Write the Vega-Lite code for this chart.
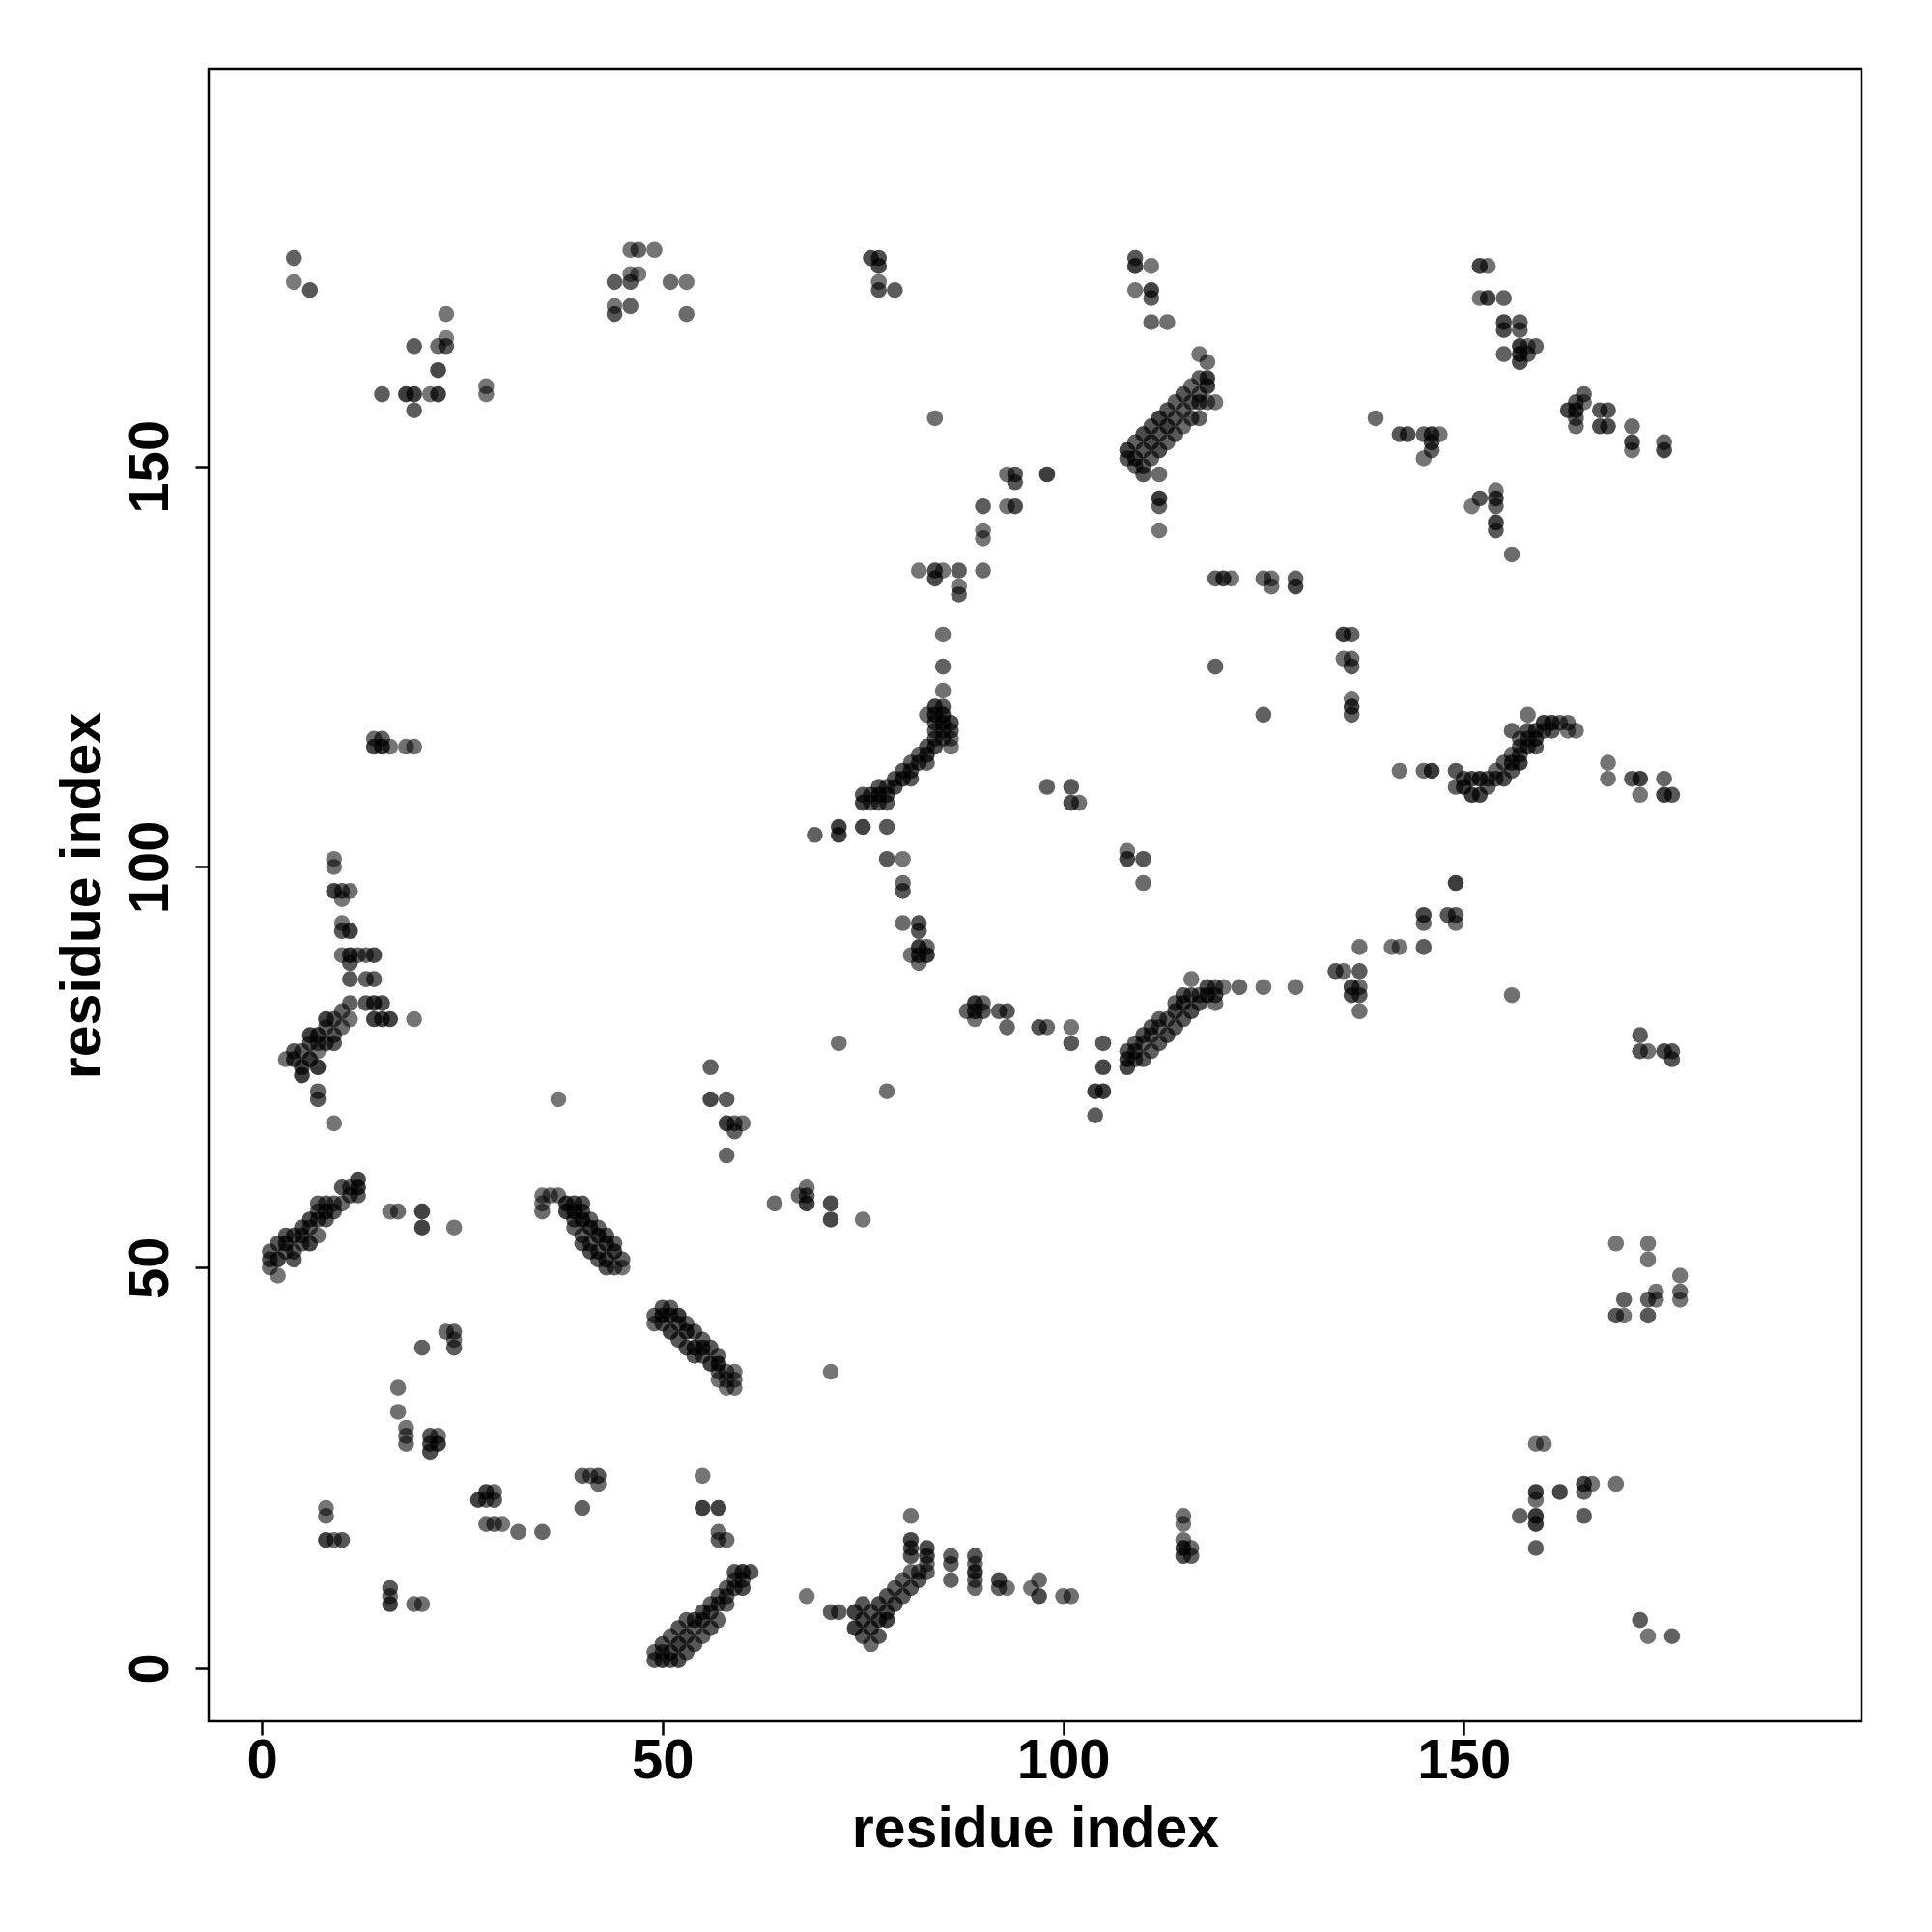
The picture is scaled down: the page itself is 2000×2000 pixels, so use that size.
{
 "$schema": "https://vega.github.io/schema/vega-lite/v6.json",
 "width": 1711, "height": 1711,
 "autosize": {"type": "none"},
 "padding": {"left": 216, "top": 71, "right": 73, "bottom": 218},
 "background": "white",
 "config": {"view": {"stroke": "black", "strokeWidth": 2.5}},
 "data": {"values": [
{"i":4,"j":176,"p":0.5},{"i":4,"j":173,"p":0.25},{"i":6,"j":172,"p":0.6},{"i":23,"j":169,"p":0.3},{"i":19,"j":165,"p":0.55},{"i":22,"j":165,"p":0.4},{"i":23,"j":166,"p":0.2},{"i":23,"j":165,"p":0.6},{"i":22,"j":162,"p":0.75},{"i":15,"j":159,"p":0.55},{"i":18,"j":159,"p":0.85},{"i":19,"j":159,"p":0.85},{"i":21,"j":159,"p":0.3},{"i":22,"j":159,"p":0.85},{"i":19,"j":157,"p":0.55},{"i":28,"j":160,"p":0.3},{"i":28,"j":159,"p":0.3},
{"i":46,"j":177,"p":0.3},{"i":47,"j":177,"p":0.45},{"i":49,"j":177,"p":0.3},{"i":44,"j":173,"p":0.55},{"i":46,"j":173,"p":0.55},{"i":46,"j":174,"p":0.25},{"i":47,"j":174,"p":0.25},{"i":51,"j":173,"p":0.4},{"i":53,"j":173,"p":0.3},{"i":44,"j":170,"p":0.3},{"i":44,"j":169,"p":0.6},{"i":46,"j":170,"p":0.5},{"i":53,"j":169,"p":0.4},{"i":76,"j":176,"p":0.7},{"i":77,"j":176,"p":0.7},{"i":77,"j":175,"p":0.75},{"i":77,"j":173,"p":0.3},{"i":77,"j":172,"p":0.6},{"i":79,"j":172,"p":0.55},{"i":84,"j":156,"p":0.35},{"i":82,"j":137,"p":0.3},{"i":84,"j":137,"p":0.7},{"i":84,"j":136,"p":0.7},{"i":85,"j":137,"p":0.3},{"i":87,"j":137,"p":0.55},{"i":87,"j":135,"p":0.3},{"i":87,"j":134,"p":0.55},{"i":85,"j":129,"p":0.35},{"i":85,"j":125,"p":0.5},{"i":85,"j":122,"p":0.35},{"i":85,"j":120,"p":0.6},{"i":84,"j":120,"p":0.8},{"i":83,"j":119,"p":0.4},{"i":84,"j":119,"p":0.8},{"i":85,"j":119,"p":0.85},
{"i":109,"j":176,"p":0.6},{"i":109,"j":175,"p":0.85},{"i":111,"j":175,"p":0.3},{"i":109,"j":172,"p":0.3},{"i":111,"j":172,"p":0.8},{"i":111,"j":171,"p":0.55},{"i":111,"j":168,"p":0.45},{"i":113,"j":168,"p":0.35},{"i":117,"j":164,"p":0.3},{"i":118,"j":163,"p":0.35},{"i":118,"j":161,"p":0.85},{"i":118,"j":160,"p":0.85},{"i":117,"j":161,"p":0.5},{"i":116,"j":160,"p":0.4},{"i":115,"j":159,"p":0.6},{"i":119,"j":158,"p":0.3},{"i":117,"j":158,"p":0.7},{"i":117,"j":156,"p":0.5},
{"i":109,"j":153,"p":0.5},{"i":110,"j":154,"p":0.7},{"i":111,"j":155,"p":0.6},{"i":112,"j":156,"p":0.8},{"i":113,"j":157,"p":0.6},{"i":114,"j":158,"p":0.5},{"i":110,"j":150,"p":0.6},{"i":111,"j":151,"p":0.5},{"i":112,"j":152,"p":0.7},{"i":113,"j":153,"p":0.5},{"i":114,"j":154,"p":0.6},{"i":115,"j":155,"p":0.4},{"i":116,"j":156,"p":0.6},{"i":118,"j":158,"p":0.4},{"i":109,"j":151,"p":0.8},{"i":110,"j":152,"p":0.6},{"i":111,"j":153,"p":0.7},{"i":112,"j":154,"p":0.6},{"i":113,"j":155,"p":0.8},{"i":114,"j":156,"p":0.6},{"i":115,"j":157,"p":0.5},{"i":116,"j":158,"p":0.6},{"i":117,"j":159,"p":0.5},{"i":108,"j":152,"p":0.8},{"i":108,"j":151,"p":0.6},{"i":109,"j":150,"p":0.5},{"i":110,"j":149,"p":0.6},{"i":112,"j":149,"p":0.4},{"i":112,"j":146,"p":0.85},{"i":112,"j":145,"p":0.5},{"i":112,"j":142,"p":0.3},
{"i":93,"j":149,"p":0.35},{"i":94,"j":149,"p":0.6},{"i":94,"j":148,"p":0.6},{"i":98,"j":149,"p":0.85},{"i":90,"j":145,"p":0.55},{"i":93,"j":145,"p":0.3},{"i":94,"j":145,"p":0.7},{"i":90,"j":142,"p":0.3},{"i":90,"j":141,"p":0.3},{"i":90,"j":137,"p":0.4},{"i":119,"j":136,"p":0.5},{"i":120,"j":136,"p":0.8},{"i":121,"j":136,"p":0.3},{"i":125,"j":136,"p":0.4},{"i":126,"j":136,"p":0.3},{"i":126,"j":135,"p":0.35},{"i":129,"j":136,"p":0.5},{"i":129,"j":135,"p":0.75},{"i":119,"j":125,"p":0.5},{"i":125,"j":119,"p":0.5},
{"i":152,"j":175,"p":0.8},{"i":153,"j":175,"p":0.35},{"i":152,"j":171,"p":0.3},{"i":153,"j":171,"p":0.8},{"i":155,"j":171,"p":0.5},{"i":155,"j":168,"p":0.75},{"i":155,"j":167,"p":0.7},{"i":157,"j":168,"p":0.55},{"i":157,"j":167,"p":0.5},{"i":155,"j":164,"p":0.5},{"i":157,"j":165,"p":0.85},{"i":157,"j":164,"p":0.85},{"i":157,"j":163,"p":0.7},{"i":158,"j":165,"p":0.3},{"i":159,"j":165,"p":0.5},{"i":158,"j":164,"p":0.55},{"i":139,"j":156,"p":0.4},{"i":142,"j":154,"p":0.6},{"i":143,"j":154,"p":0.7},{"i":145,"j":154,"p":0.5},{"i":146,"j":154,"p":0.85},{"i":147,"j":154,"p":0.3},{"i":146,"j":153,"p":0.7},{"i":146,"j":152,"p":0.5},{"i":145,"j":151,"p":0.3},{"i":163,"j":157,"p":0.75},{"i":164,"j":158,"p":0.6},{"i":165,"j":159,"p":0.5},{"i":165,"j":158,"p":0.3},{"i":164,"j":157,"p":0.85},{"i":164,"j":156,"p":0.5},{"i":164,"j":155,"p":0.4},{"i":167,"j":157,"p":0.6},{"i":168,"j":157,"p":0.6},{"i":167,"j":155,"p":0.7},{"i":168,"j":155,"p":0.7},{"i":171,"j":155,"p":0.4},{"i":171,"j":153,"p":0.8},{"i":171,"j":152,"p":0.3},{"i":175,"j":153,"p":0.45},{"i":175,"j":152,"p":0.75},{"i":154,"j":147,"p":0.3},{"i":154,"j":146,"p":0.75},{"i":154,"j":145,"p":0.5},{"i":152,"j":146,"p":0.6},{"i":151,"j":145,"p":0.25},{"i":154,"j":143,"p":0.8},{"i":154,"j":142,"p":0.6},{"i":156,"j":139,"p":0.4},{"i":135,"j":129,"p":0.85},{"i":136,"j":129,"p":0.5},{"i":135,"j":126,"p":0.35},{"i":136,"j":126,"p":0.4},{"i":136,"j":125,"p":0.55},{"i":136,"j":121,"p":0.3},{"i":136,"j":120,"p":0.8},{"i":136,"j":119,"p":0.5},
{"i":14,"j":116,"p":0.4},{"i":15,"j":116,"p":0.5},{"i":14,"j":115,"p":0.8},{"i":15,"j":115,"p":0.9},{"i":16,"j":115,"p":0.3},{"i":18,"j":115,"p":0.35},{"i":19,"j":115,"p":0.35},{"i":9,"j":101,"p":0.3},{"i":9,"j":100,"p":0.35},{"i":9,"j":97,"p":0.8},{"i":10,"j":97,"p":0.55},{"i":11,"j":97,"p":0.35},{"i":10,"j":96,"p":0.3},{"i":10,"j":93,"p":0.3},{"i":10,"j":92,"p":0.6},{"i":11,"j":92,"p":0.8},{"i":10,"j":89,"p":0.35},{"i":11,"j":89,"p":0.9},{"i":12,"j":89,"p":0.5},{"i":13,"j":89,"p":0.4},{"i":14,"j":89,"p":0.75},{"i":11,"j":88,"p":0.6},{"i":11,"j":86,"p":0.6},{"i":13,"j":86,"p":0.5},{"i":14,"j":86,"p":0.55},{"i":11,"j":83,"p":0.5},{"i":13,"j":83,"p":0.6},{"i":14,"j":83,"p":0.85},{"i":15,"j":83,"p":0.7},{"i":14,"j":81,"p":0.8},{"i":15,"j":81,"p":0.8},{"i":16,"j":81,"p":0.8},{"i":19,"j":81,"p":0.3},
{"i":10,"j":82,"p":0.5},{"i":11,"j":81,"p":0.3},{"i":9,"j":81,"p":0.6},{"i":10,"j":80,"p":0.4},{"i":8,"j":81,"p":0.8},{"i":8,"j":80,"p":0.5},{"i":9,"j":79,"p":0.6},{"i":7,"j":79,"p":0.85},{"i":9,"j":78,"p":0.6},{"i":6,"j":79,"p":0.8},{"i":6,"j":78,"p":0.6},{"i":7,"j":77,"p":0.3},{"i":5,"j":77,"p":0.5},{"i":4,"j":77,"p":0.6},{"i":3,"j":76,"p":0.35},{"i":4,"j":76,"p":0.8},{"i":5,"j":75,"p":0.8},{"i":7,"j":75,"p":0.9},{"i":5,"j":74,"p":0.85},{"i":6,"j":76,"p":0.9},{"i":8,"j":78,"p":0.7},{"i":7,"j":78,"p":0.4},{"i":7,"j":72,"p":0.5},{"i":7,"j":71,"p":0.6},{"i":9,"j":68,"p":0.3},{"i":37,"j":71,"p":0.3},
{"i":12,"j":61,"p":0.75},{"i":12,"j":60,"p":0.9},{"i":10,"j":60,"p":0.6},{"i":12,"j":59,"p":0.55},{"i":7,"j":58,"p":0.5},{"i":8,"j":58,"p":0.6},{"i":9,"j":58,"p":0.5},{"i":10,"j":58,"p":0.4},{"i":16,"j":57,"p":0.3},{"i":17,"j":57,"p":0.4},{"i":20,"j":57,"p":0.8},{"i":35,"j":59,"p":0.3},{"i":36,"j":59,"p":0.35},{"i":37,"j":59,"p":0.4},{"i":35,"j":58,"p":0.3},{"i":38,"j":58,"p":0.9},{"i":39,"j":58,"p":0.7},{"i":40,"j":58,"p":0.6},
{"i":35,"j":57,"p":0.4},{"i":38,"j":57,"p":0.85},{"i":39,"j":57,"p":0.9},{"i":40,"j":57,"p":0.6},{"i":39,"j":56,"p":0.6},{"i":40,"j":56,"p":0.9},{"i":41,"j":56,"p":0.5},{"i":39,"j":55,"p":0.5},{"i":41,"j":55,"p":0.85},{"i":42,"j":55,"p":0.5},{"i":40,"j":54,"p":0.5},{"i":42,"j":54,"p":0.9},{"i":43,"j":54,"p":0.6},{"i":40,"j":53,"p":0.6},{"i":41,"j":53,"p":0.5},{"i":43,"j":53,"p":0.85},{"i":44,"j":53,"p":0.5},{"i":41,"j":52,"p":0.7},{"i":42,"j":52,"p":0.6},{"i":44,"j":52,"p":0.85},{"i":42,"j":51,"p":0.6},{"i":43,"j":51,"p":0.7},{"i":45,"j":51,"p":0.5},{"i":43,"j":50,"p":0.6},{"i":44,"j":50,"p":0.5},{"i":45,"j":50,"p":0.3},
{"i":1,"j":52,"p":0.5},{"i":1,"j":51,"p":0.6},{"i":1,"j":50,"p":0.4},{"i":2,"j":53,"p":0.6},{"i":2,"j":51,"p":0.8},{"i":2,"j":49,"p":0.3},{"i":3,"j":54,"p":0.6},{"i":3,"j":53,"p":0.8},{"i":3,"j":52,"p":0.5},{"i":4,"j":54,"p":0.7},{"i":4,"j":52,"p":0.5},{"i":4,"j":51,"p":0.6},{"i":5,"j":55,"p":0.6},{"i":5,"j":54,"p":0.7},{"i":5,"j":53,"p":0.5},{"i":6,"j":56,"p":0.7},{"i":6,"j":55,"p":0.5},{"i":6,"j":53,"p":0.8},{"i":7,"j":57,"p":0.5},{"i":7,"j":56,"p":0.6},{"i":7,"j":54,"p":0.4},{"i":8,"j":57,"p":0.7},{"i":8,"j":56,"p":0.6},{"i":9,"j":57,"p":0.6},{"i":11,"j":59,"p":0.6},{"i":11,"j":60,"p":0.5},
{"i":20,"j":55,"p":0.8},{"i":24,"j":55,"p":0.3},{"i":23,"j":42,"p":0.4},{"i":24,"j":42,"p":0.5},{"i":24,"j":41,"p":0.35},{"i":24,"j":40,"p":0.55},{"i":20,"j":40,"p":0.5},{"i":17,"j":35,"p":0.35},{"i":17,"j":32,"p":0.35},{"i":18,"j":30,"p":0.3},{"i":18,"j":29,"p":0.4},{"i":18,"j":28,"p":0.4},{"i":21,"j":29,"p":0.6},{"i":22,"j":29,"p":0.35},{"i":21,"j":28,"p":0.7},{"i":22,"j":28,"p":0.85},{"i":21,"j":27,"p":0.7},{"i":8,"j":20,"p":0.3},{"i":8,"j":19,"p":0.4},{"i":8,"j":16,"p":0.8},{"i":9,"j":16,"p":0.4},{"i":10,"j":16,"p":0.6},{"i":27,"j":21,"p":0.8},{"i":28,"j":22,"p":0.8},{"i":29,"j":22,"p":0.4},{"i":29,"j":21,"p":0.6},{"i":28,"j":21,"p":0.4},{"i":28,"j":18,"p":0.4},{"i":29,"j":18,"p":0.5},{"i":30,"j":18,"p":0.3},{"i":32,"j":17,"p":0.4},{"i":35,"j":17,"p":0.45},{"i":40,"j":24,"p":0.5},{"i":41,"j":24,"p":0.35},{"i":42,"j":24,"p":0.6},{"i":42,"j":23,"p":0.4},{"i":40,"j":20,"p":0.5},{"i":16,"j":10,"p":0.6},{"i":16,"j":9,"p":0.4},{"i":16,"j":8,"p":0.8},{"i":19,"j":8,"p":0.4},{"i":20,"j":8,"p":0.35},
{"i":64,"j":58,"p":0.4},{"i":67,"j":59,"p":0.4},{"i":68,"j":60,"p":0.35},{"i":68,"j":59,"p":0.6},{"i":68,"j":58,"p":0.85},{"i":71,"j":58,"p":0.7},{"i":71,"j":56,"p":0.75},{"i":75,"j":56,"p":0.3},
{"i":49,"j":44,"p":0.5},{"i":49,"j":43,"p":0.4},{"i":50,"j":45,"p":0.6},{"i":50,"j":44,"p":0.85},{"i":50,"j":43,"p":0.6},{"i":51,"j":45,"p":0.5},{"i":51,"j":44,"p":0.7},{"i":51,"j":42,"p":0.8},{"i":52,"j":44,"p":0.85},{"i":52,"j":43,"p":0.6},{"i":52,"j":41,"p":0.6},{"i":53,"j":43,"p":0.5},{"i":53,"j":42,"p":0.85},{"i":53,"j":40,"p":0.7},{"i":54,"j":42,"p":0.6},{"i":54,"j":40,"p":0.85},{"i":54,"j":39,"p":0.6},{"i":55,"j":41,"p":0.5},{"i":55,"j":40,"p":0.8},{"i":55,"j":39,"p":0.6},{"i":56,"j":40,"p":0.6},{"i":56,"j":38,"p":0.8},{"i":57,"j":39,"p":0.55},{"i":57,"j":38,"p":0.9},{"i":57,"j":37,"p":0.5},{"i":57,"j":36,"p":0.3},{"i":58,"j":37,"p":0.4},{"i":58,"j":36,"p":0.3},{"i":58,"j":35,"p":0.3},{"i":59,"j":37,"p":0.3},{"i":59,"j":36,"p":0.35},{"i":59,"j":35,"p":0.3},
{"i":71,"j":37,"p":0.3},{"i":55,"j":24,"p":0.3},{"i":55,"j":20,"p":0.85},{"i":57,"j":20,"p":0.8},{"i":57,"j":17,"p":0.4},{"i":58,"j":16,"p":0.4},{"i":57,"j":16,"p":0.5},
{"i":49,"j":2,"p":0.4},{"i":49,"j":1,"p":0.6},{"i":50,"j":3,"p":0.6},{"i":50,"j":2,"p":0.5},{"i":50,"j":1,"p":0.8},{"i":51,"j":4,"p":0.5},{"i":51,"j":2,"p":0.7},{"i":51,"j":1,"p":0.6},{"i":52,"j":5,"p":0.6},{"i":52,"j":3,"p":0.8},{"i":52,"j":1,"p":0.7},{"i":53,"j":6,"p":0.5},{"i":53,"j":4,"p":0.7},{"i":53,"j":2,"p":0.6},{"i":54,"j":6,"p":0.7},{"i":54,"j":5,"p":0.5},{"i":54,"j":3,"p":0.6},{"i":55,"j":7,"p":0.6},{"i":55,"j":6,"p":0.8},{"i":55,"j":4,"p":0.5},{"i":56,"j":8,"p":0.5},{"i":56,"j":7,"p":0.7},{"i":56,"j":5,"p":0.6},{"i":57,"j":9,"p":0.4},{"i":57,"j":8,"p":0.6},{"i":57,"j":6,"p":0.5},{"i":58,"j":10,"p":0.5},{"i":58,"j":9,"p":0.6},{"i":58,"j":8,"p":0.5},{"i":59,"j":12,"p":0.6},{"i":59,"j":11,"p":0.5},{"i":59,"j":10,"p":0.6},{"i":60,"j":12,"p":0.85},{"i":60,"j":11,"p":0.6},{"i":60,"j":10,"p":0.7},{"i":61,"j":12,"p":0.6},
{"i":68,"j":9,"p":0.3},{"i":71,"j":7,"p":0.55},{"i":72,"j":7,"p":0.55},{"i":74,"j":7,"p":0.8},{"i":74,"j":5,"p":0.85},{"i":75,"j":8,"p":0.6},{"i":75,"j":6,"p":0.7},{"i":75,"j":4,"p":0.6},{"i":76,"j":7,"p":0.6},{"i":76,"j":5,"p":0.7},{"i":76,"j":3,"p":0.4},{"i":77,"j":8,"p":0.7},{"i":77,"j":6,"p":0.8},{"i":77,"j":4,"p":0.6},{"i":78,"j":9,"p":0.6},{"i":78,"j":7,"p":0.7},{"i":78,"j":6,"p":0.8},{"i":79,"j":10,"p":0.5},{"i":79,"j":8,"p":0.7},{"i":80,"j":11,"p":0.5},{"i":80,"j":9,"p":0.6},{"i":81,"j":12,"p":0.4},{"i":81,"j":10,"p":0.6},{"i":82,"j":12,"p":0.5},{"i":82,"j":11,"p":0.6},{"i":83,"j":13,"p":0.4},{"i":83,"j":12,"p":0.5},{"i":81,"j":19,"p":0.35},{"i":81,"j":16,"p":0.75},{"i":81,"j":15,"p":0.7},{"i":81,"j":14,"p":0.6},{"i":83,"j":15,"p":0.7},{"i":83,"j":14,"p":0.8},{"i":86,"j":14,"p":0.5},{"i":86,"j":13,"p":0.5},{"i":86,"j":11,"p":0.5},
{"i":89,"j":14,"p":0.6},{"i":89,"j":13,"p":0.4},{"i":89,"j":12,"p":0.9},{"i":89,"j":11,"p":0.5},{"i":89,"j":10,"p":0.4},{"i":92,"j":11,"p":0.7},{"i":93,"j":10,"p":0.3},{"i":92,"j":10,"p":0.5},{"i":96,"j":10,"p":0.3},{"i":97,"j":11,"p":0.4},{"i":97,"j":9,"p":0.7},{"i":100,"j":9,"p":0.35},{"i":101,"j":9,"p":0.35},{"i":115,"j":19,"p":0.35},{"i":115,"j":18,"p":0.3},{"i":115,"j":16,"p":0.35},{"i":115,"j":15,"p":0.9},{"i":116,"j":15,"p":0.4},{"i":115,"j":14,"p":0.7},{"i":116,"j":14,"p":0.5},
{"i":169,"j":53,"p":0.3},{"i":173,"j":53,"p":0.3},{"i":173,"j":51,"p":0.3},{"i":177,"j":49,"p":0.3},{"i":170,"j":46,"p":0.5},{"i":169,"j":44,"p":0.6},{"i":170,"j":44,"p":0.3},{"i":173,"j":46,"p":0.5},{"i":174,"j":47,"p":0.3},{"i":174,"j":46,"p":0.3},{"i":173,"j":44,"p":0.6},{"i":177,"j":47,"p":0.4},{"i":177,"j":46,"p":0.3},{"i":159,"j":28,"p":0.3},{"i":160,"j":28,"p":0.3},{"i":159,"j":22,"p":0.85},{"i":159,"j":21,"p":0.35},{"i":159,"j":19,"p":0.9},{"i":159,"j":18,"p":0.85},{"i":157,"j":19,"p":0.5},{"i":162,"j":22,"p":0.75},{"i":165,"j":23,"p":0.75},{"i":165,"j":22,"p":0.5},{"i":166,"j":23,"p":0.3},{"i":169,"j":23,"p":0.35},{"i":165,"j":19,"p":0.55},{"i":159,"j":15,"p":0.55},{"i":172,"j":6,"p":0.55},{"i":173,"j":4,"p":0.3},{"i":176,"j":4,"p":0.5},
{"i":75,"j":108,"p":0.8},{"i":75,"j":109,"p":0.6},{"i":76,"j":109,"p":0.7},{"i":76,"j":108,"p":0.5},{"i":77,"j":110,"p":0.6},{"i":77,"j":109,"p":0.85},{"i":77,"j":108,"p":0.6},{"i":78,"j":110,"p":0.5},{"i":78,"j":109,"p":0.7},{"i":78,"j":108,"p":0.6},{"i":79,"j":111,"p":0.6},{"i":79,"j":110,"p":0.7},{"i":80,"j":112,"p":0.6},{"i":80,"j":111,"p":0.8},{"i":81,"j":113,"p":0.5},{"i":81,"j":112,"p":0.7},{"i":81,"j":111,"p":0.6},{"i":82,"j":114,"p":0.5},{"i":82,"j":113,"p":0.7},{"i":83,"j":115,"p":0.6},{"i":83,"j":114,"p":0.8},{"i":83,"j":113,"p":0.5},{"i":84,"j":116,"p":0.6},{"i":84,"j":115,"p":0.7},{"i":85,"j":117,"p":0.5},{"i":85,"j":116,"p":0.6},{"i":85,"j":118,"p":0.85},{"i":86,"j":118,"p":0.7},{"i":86,"j":117,"p":0.6},{"i":84,"j":117,"p":0.5},{"i":86,"j":116,"p":0.3},{"i":86,"j":115,"p":0.3},{"i":84,"j":118,"p":0.6},
{"i":69,"j":104,"p":0.5},{"i":72,"j":105,"p":0.85},{"i":72,"j":104,"p":0.85},{"i":75,"j":105,"p":0.8},{"i":78,"j":105,"p":0.6},{"i":78,"j":101,"p":0.6},{"i":80,"j":101,"p":0.3},{"i":80,"j":98,"p":0.4},{"i":80,"j":97,"p":0.6},{"i":80,"j":93,"p":0.4},{"i":82,"j":93,"p":0.65},{"i":82,"j":92,"p":0.6},{"i":81,"j":89,"p":0.35},{"i":82,"j":90,"p":0.85},{"i":83,"j":90,"p":0.45},{"i":83,"j":89,"p":0.9},{"i":82,"j":88,"p":0.4},{"i":82,"j":89,"p":0.8},{"i":72,"j":78,"p":0.35},{"i":56,"j":75,"p":0.5},{"i":56,"j":71,"p":0.75},{"i":58,"j":71,"p":0.55},{"i":58,"j":68,"p":0.85},{"i":59,"j":68,"p":0.5},{"i":60,"j":68,"p":0.35},{"i":59,"j":67,"p":0.5},{"i":58,"j":64,"p":0.45},{"i":78,"j":72,"p":0.35},
{"i":98,"j":110,"p":0.5},{"i":101,"j":110,"p":0.6},{"i":101,"j":108,"p":0.7},{"i":102,"j":108,"p":0.35},{"i":108,"j":102,"p":0.3},{"i":108,"j":101,"p":0.75},{"i":110,"j":101,"p":0.6},{"i":110,"j":98,"p":0.4},{"i":89,"j":83,"p":0.85},{"i":90,"j":83,"p":0.4},{"i":89,"j":82,"p":0.8},{"i":88,"j":82,"p":0.5},{"i":89,"j":81,"p":0.35},{"i":90,"j":82,"p":0.6},{"i":92,"j":82,"p":0.55},{"i":93,"j":82,"p":0.6},{"i":93,"j":80,"p":0.45},{"i":97,"j":80,"p":0.65},{"i":98,"j":80,"p":0.4},{"i":101,"j":80,"p":0.3},{"i":101,"j":78,"p":0.6},{"i":105,"j":78,"p":0.6},{"i":105,"j":75,"p":0.75},{"i":104,"j":72,"p":0.85},{"i":105,"j":72,"p":0.85},{"i":104,"j":69,"p":0.55},
{"i":108,"j":75,"p":0.75},{"i":108,"j":76,"p":0.8},{"i":108,"j":77,"p":0.6},{"i":109,"j":76,"p":0.6},{"i":109,"j":78,"p":0.5},{"i":109,"j":77,"p":0.7},{"i":110,"j":76,"p":0.6},{"i":110,"j":78,"p":0.4},{"i":110,"j":79,"p":0.6},{"i":111,"j":77,"p":0.5},{"i":111,"j":79,"p":0.5},{"i":111,"j":80,"p":0.6},{"i":112,"j":78,"p":0.6},{"i":112,"j":80,"p":0.4},{"i":112,"j":81,"p":0.5},{"i":113,"j":79,"p":0.7},{"i":113,"j":81,"p":0.5},{"i":114,"j":80,"p":0.6},{"i":114,"j":82,"p":0.7},{"i":114,"j":83,"p":0.5},{"i":115,"j":81,"p":0.6},{"i":115,"j":83,"p":0.8},{"i":115,"j":84,"p":0.6},{"i":116,"j":82,"p":0.7},{"i":116,"j":84,"p":0.6},{"i":116,"j":86,"p":0.3},{"i":117,"j":84,"p":0.5},{"i":117,"j":83,"p":0.7},{"i":118,"j":84,"p":0.85},{"i":118,"j":85,"p":0.7},{"i":119,"j":85,"p":0.5},{"i":119,"j":83,"p":0.4},{"i":119,"j":84,"p":0.7},{"i":120,"j":85,"p":0.3},{"i":122,"j":85,"p":0.45},{"i":125,"j":85,"p":0.35},{"i":129,"j":85,"p":0.35},
{"i":142,"j":112,"p":0.35},{"i":145,"j":112,"p":0.4},{"i":146,"j":112,"p":0.85},{"i":149,"j":112,"p":0.6},{"i":149,"j":110,"p":0.5},{"i":150,"j":111,"p":0.6},{"i":150,"j":110,"p":0.85},{"i":151,"j":111,"p":0.7},{"i":151,"j":109,"p":0.85},{"i":152,"j":111,"p":0.9},{"i":152,"j":109,"p":0.8},{"i":153,"j":111,"p":0.6},{"i":153,"j":110,"p":0.5},{"i":154,"j":112,"p":0.4},{"i":154,"j":111,"p":0.6},{"i":155,"j":113,"p":0.5},{"i":155,"j":111,"p":0.7},{"i":156,"j":114,"p":0.4},{"i":156,"j":113,"p":0.7},{"i":156,"j":112,"p":0.6},{"i":157,"j":115,"p":0.6},{"i":157,"j":113,"p":0.85},{"i":157,"j":114,"p":0.6},{"i":158,"j":116,"p":0.5},{"i":158,"j":115,"p":0.7},{"i":159,"j":115,"p":0.6},{"i":159,"j":116,"p":0.8},{"i":156,"j":117,"p":0.5},{"i":158,"j":117,"p":0.6},{"i":160,"j":118,"p":0.85},{"i":158,"j":119,"p":0.35},{"i":161,"j":118,"p":0.85},{"i":161,"j":117,"p":0.6},{"i":162,"j":118,"p":0.5},{"i":163,"j":118,"p":0.4},{"i":163,"j":117,"p":0.3},{"i":164,"j":117,"p":0.35},{"i":159,"j":117,"p":0.7},{"i":160,"j":117,"p":0.6},{"i":157,"j":116,"p":0.4},
{"i":168,"j":113,"p":0.3},{"i":168,"j":111,"p":0.35},{"i":171,"j":111,"p":0.6},{"i":172,"j":111,"p":0.8},{"i":172,"j":109,"p":0.3},{"i":175,"j":111,"p":0.45},{"i":175,"j":109,"p":0.85},{"i":176,"j":109,"p":0.6},{"i":149,"j":98,"p":0.85},{"i":145,"j":94,"p":0.75},{"i":145,"j":93,"p":0.45},{"i":148,"j":94,"p":0.6},{"i":149,"j":94,"p":0.55},{"i":149,"j":93,"p":0.35},{"i":137,"j":90,"p":0.35},{"i":141,"j":90,"p":0.3},{"i":142,"j":90,"p":0.3},{"i":145,"j":90,"p":0.55},{"i":134,"j":87,"p":0.6},{"i":135,"j":87,"p":0.4},{"i":137,"j":87,"p":0.55},{"i":136,"j":85,"p":0.75},{"i":137,"j":85,"p":0.4},{"i":136,"j":84,"p":0.7},{"i":137,"j":84,"p":0.6},{"i":137,"j":82,"p":0.35},{"i":156,"j":84,"p":0.35},{"i":172,"j":79,"p":0.55},{"i":172,"j":77,"p":0.6},{"i":173,"j":77,"p":0.35},{"i":175,"j":77,"p":0.7},{"i":176,"j":77,"p":0.6},{"i":176,"j":76,"p":0.65}
 ]},
 "mark": {"type": "circle", "color": "black", "size": 275, "strokeWidth": 0},
 "encoding": {
  "x": {"field": "i", "type": "quantitative",
   "scale": {"domain": [-6.64, 199.64], "nice": false, "zero": false},
   "axis": {"title": "residue index", "values": [0, 50, 100, 150], "grid": false, "domain": false,
    "tickSize": 14, "tickWidth": 2.5, "tickColor": "black",
    "labelFont": "Liberation Sans", "labelFontWeight": "bold", "labelFontSize": 58, "labelColor": "black",
    "labelBaseline": "alphabetic", "labelPadding": 44, "labelFlush": false, "labelOverlap": false,
    "titleFont": "Liberation Sans", "titleFontWeight": "bold", "titleFontSize": 59, "titleColor": "black",
    "titleBaseline": "alphabetic", "titleAlign": "center", "titleX": 855.5, "titleY": 129}},
  "y": {"field": "j", "type": "quantitative",
   "scale": {"domain": [-6.64, 199.64], "nice": false, "zero": false},
   "axis": {"title": "residue index", "values": [0, 50, 100, 150], "grid": false, "domain": false,
    "tickSize": 14, "tickWidth": 2.5, "tickColor": "black",
    "labelFont": "Liberation Sans", "labelFontWeight": "bold", "labelFontSize": 58, "labelColor": "black",
    "labelAngle": 270, "labelAlign": "center", "labelBaseline": "alphabetic", "labelPadding": 28.6, "labelFlush": false, "labelOverlap": false,
    "titleFont": "Liberation Sans", "titleFontWeight": "bold", "titleFontSize": 59, "titleColor": "black",
    "titleAngle": 270, "titleBaseline": "alphabetic", "titleAlign": "center", "titleX": -113, "titleY": 855.5}},
  "opacity": {"field": "p", "type": "quantitative", "scale": {"domain": [0, 1], "range": [0.42, 0.82]}, "legend": null}
 }
}
